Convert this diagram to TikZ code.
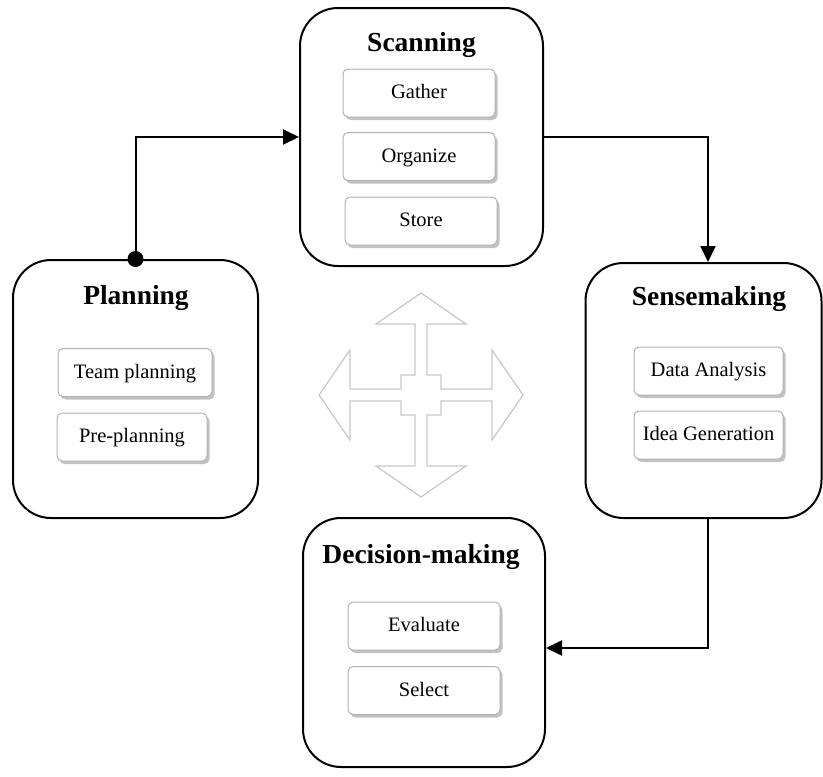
\documentclass[tikz,border=0pt]{standalone}
\usepackage{fontspec}
\setmainfont{Liberation Serif}
\usetikzlibrary{arrows.meta,shadows}

\begin{document}
\begin{tikzpicture}[x=1pt,y=-1pt,
  stagebox/.style={draw=black, line width=2pt, rounded corners=38pt, inner sep=0pt},
  stagetitle/.style={font=\fontsize{27.5}{31}\selectfont\bfseries, anchor=base, inner sep=0pt},
  taskbox/.style={draw=gray!60, line width=1pt, fill=white, rounded corners=5pt,
    minimum width=152pt, minimum height=48pt, inner sep=0pt,
    text height=14pt, text depth=3pt,
    font=\fontsize{20.5}{24}\selectfont,
    drop shadow={shadow xshift=2.5pt, shadow yshift=-3pt, fill=gray!80, opacity=0.6}},
  flow/.style={line width=2pt, -{Triangle[length=16pt,width=15pt]}},
  crossline/.style={draw=black!22, line width=1.2pt, line join=miter}
]
\useasboundingbox (0,0) rectangle (823,777);

% four stage frames
\node[stagebox, minimum width=243pt, minimum height=258pt] (scan)  at (421.5,137) {};
\node[stagebox, minimum width=245pt, minimum height=258pt] (plan)  at (135.5,389) {};
\node[stagebox, minimum width=236pt, minimum height=255pt] (sense) at (703.5,390.5) {};
\node[stagebox, minimum width=242pt, minimum height=249pt] (dec)   at (424,642.5) {};

% stage titles
\node[stagetitle] (scanT)  at (421.5,51)  {Scanning};
\node[stagetitle] (planT)  at (136,304)   {Planning};
\node[stagetitle] (senseT) at (709,305)   {Sensemaking};
\node[stagetitle] (decT)   at (421,563)   {Decision-making};

% tasks of each stage
\node[taskbox] (gather)   at (419,93)    {Gather};
\node[taskbox] (organize) at (419,156.5) {Organize};
\node[taskbox] (store)    at (421,221)   {Store};

\node[taskbox, minimum width=154pt] (team) at (135,372.5) {Team planning};
\node[taskbox, minimum width=150pt] (pre)  at (132,437)   {Pre-planning};

\node[taskbox, minimum width=149pt] (data) at (708.5,371) {Data Analysis};
\node[taskbox, minimum width=149pt] (idea) at (708.5,435) {Idea Generation};

\node[taskbox] (eval)   at (424,626)   {Evaluate};
\node[taskbox] (select) at (424,690.5) {Select};

% cycle connectors
\coordinate (senseIn)  at ([xshift=4.5pt]sense.north);
\coordinate (senseOut) at ([xshift=4.5pt]sense.south);
\coordinate (decIn)    at ([yshift=-5.5pt]dec.east);
\draw[flow] (plan.north) |- (scan.west);
\fill (plan.north) circle (8pt);
\draw[flow] (scan.east) -| (senseIn);
\draw[flow] (senseOut) |- (decIn);

% four-way arrow in the middle
\begin{scope}[shift={(421,395)}]
\draw[crossline]
  (0,-102) -- (45,-71) -- (6,-71) -- (6,-20) -- (20,-20) -- (20,-6) -- (71,-6)
  -- (71,-45) -- (102,0) -- (71,45) -- (71,6) -- (20,6) -- (20,20) -- (6,20)
  -- (6,71) -- (45,71) -- (0,102) -- (-45,71) -- (-6,71) -- (-6,20) -- (-20,20)
  -- (-20,6) -- (-71,6) -- (-71,45) -- (-102,0) -- (-71,-45) -- (-71,-6)
  -- (-20,-6) -- (-20,-20) -- (-6,-20) -- (-6,-71) -- (-45,-71) -- cycle;
\end{scope}
\end{tikzpicture}
\end{document}
